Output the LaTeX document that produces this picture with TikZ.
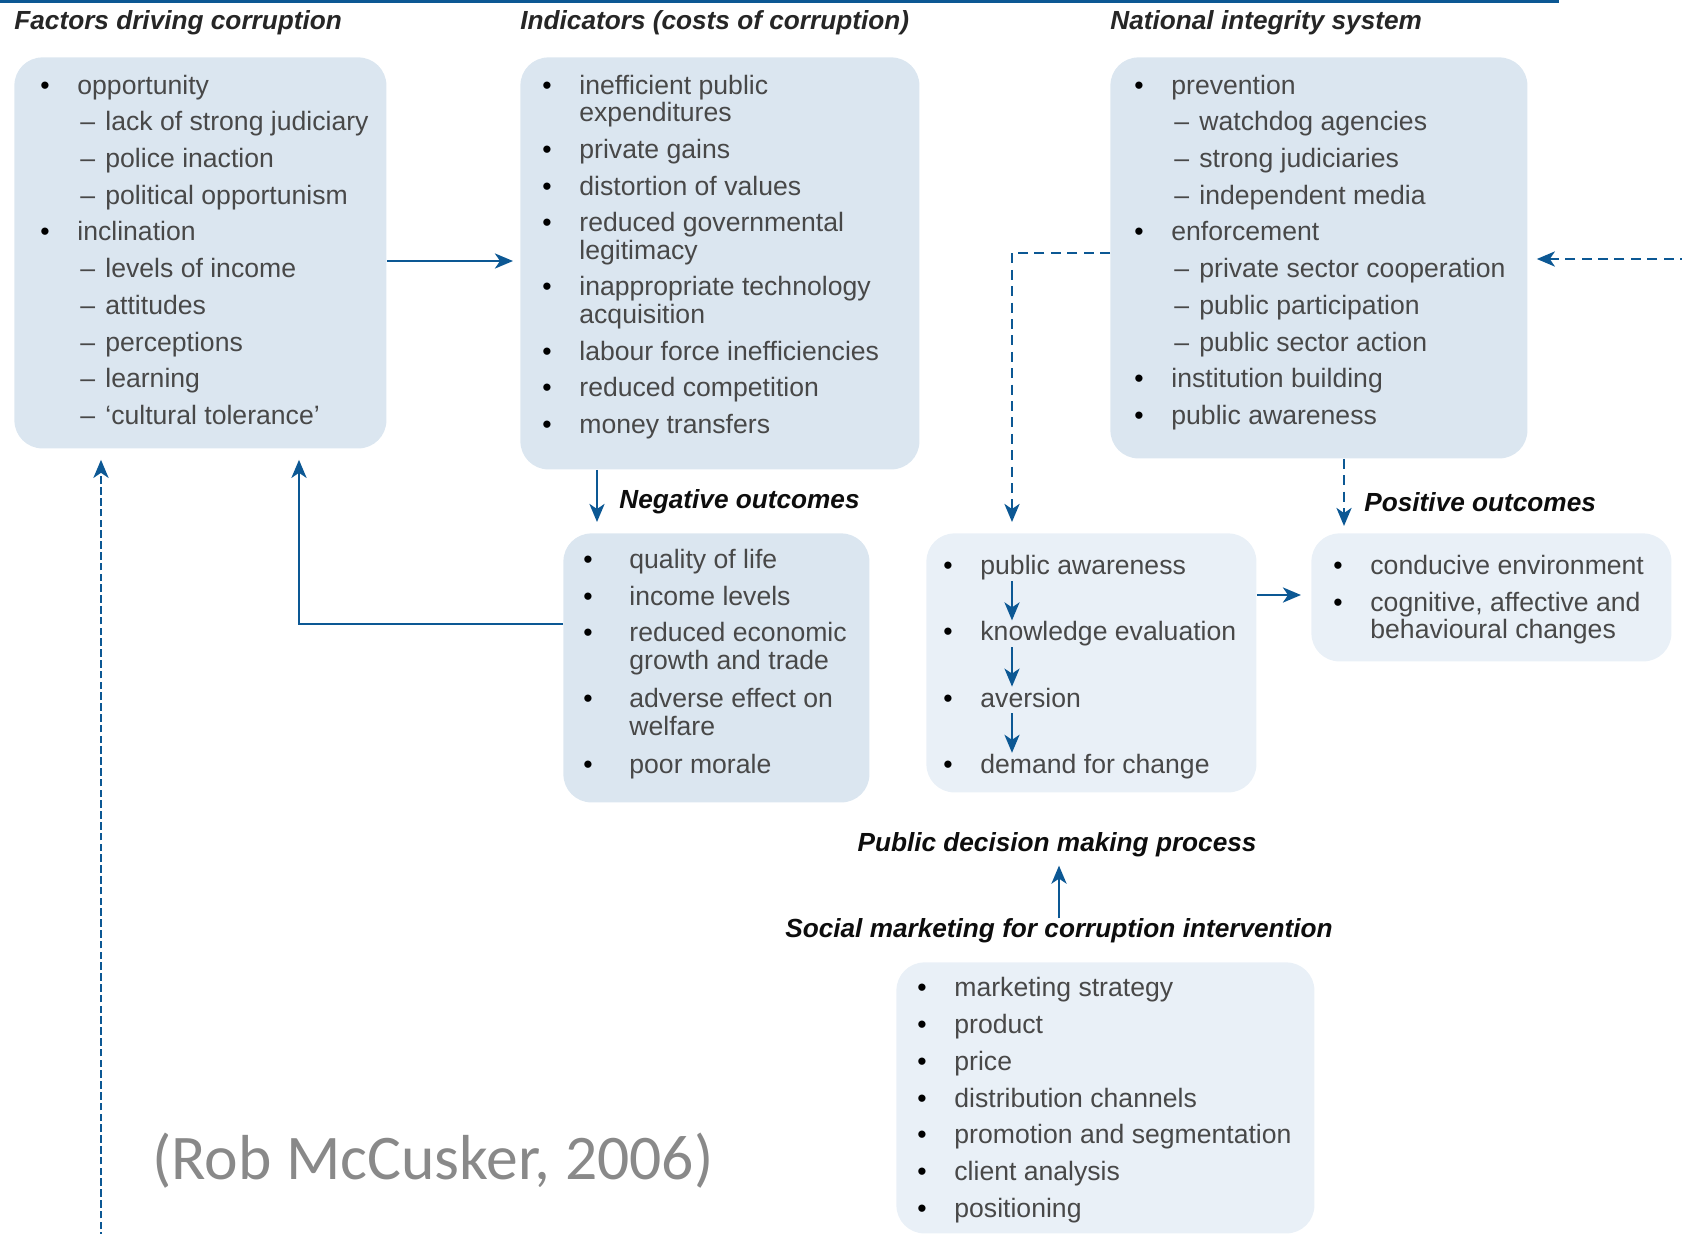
\documentclass[tikz,border=0pt]{standalone}
\usepackage{fontspec}
\setmainfont{Liberation Sans}
\newfontfamily\citefont{Carlito}
\usetikzlibrary{arrows.meta,positioning}

\definecolor{linkblue}{RGB}{12,88,148}
\definecolor{panelfill}{RGB}{219,230,240}
\definecolor{panellight}{RGB}{233,240,247}
\definecolor{bodytext}{RGB}{72,72,72}
\definecolor{citegray}{RGB}{137,137,137}

\newcommand{\bulitem}[2][18.5pt]{\strut\makebox[#1][l]{\textcolor{black}{\textbullet}}#2}
\newcommand{\dashitem}[1]{\strut\hspace*{20pt}\makebox[12.5pt][l]{\textendash}#1}
\newcommand{\contline}[2][18.5pt]{\strut\hspace*{#1}#2}

\tikzset{
  panel/.style={rounded corners=14pt, fill=panelfill, inner sep=0pt, anchor=north west},
  listtext/.style={anchor=north west, inner sep=0pt, align=left, text=bodytext,
    font=\fontsize{13.3}{18.35}\selectfont},
  chainitem/.style={listtext, text height=10pt, text depth=3pt},
  heading/.style={anchor=west, inner sep=0pt, text=black!85,
    font=\fontsize{13.1}{15}\selectfont\bfseries\itshape},
  outlabel/.style={heading, text=black!95},
  arr/.style={draw=linkblue, line width=1.45pt, -{Stealth[length=9pt,width=7.5pt,inset=2.5pt]}},
  dashline/.style={dash pattern=on 5pt off 3.2pt},
  dotline/.style={dash pattern=on 3.8pt off 1.6pt}
}

\begin{document}
\begin{tikzpicture}[x=0.5pt, y=-0.5pt]
    \useasboundingbox (0,0) rectangle (1682,1233);

    % top rule
    \draw[linkblue, line width=1.6pt] (0,1.5) -- (1559,1.5);

    % Panels
    \node[panel, minimum width=186pt, minimum height=195.5pt] (fac) at (14,57) {};
    \node[panel, minimum width=199.5pt, minimum height=206pt] (ind) at (520,57) {};
    \node[panel, minimum width=208.5pt, minimum height=200.5pt] (nis) at (1110,57) {};
    \node[panel, minimum width=153pt, minimum height=134.5pt] (neg) at (563,533) {};
    \node[panel, fill=panellight, minimum width=165pt, minimum height=129.5pt] (aware) at (926,533) {};
    \node[panel, fill=panellight, minimum width=180pt, minimum height=64pt] (pos) at (1311,533) {};
    \node[panel, fill=panellight, minimum width=209pt, minimum height=135.5pt] (soc) at (896,962) {};

    % Headings
    \node[heading] (factitle) at ([yshift=17.25pt]fac.north west) {Factors driving corruption};
    \node[heading] (indtitle) at ([yshift=17.25pt]ind.north west) {Indicators (costs of corruption)};
    \node[heading] (nistitle) at ([yshift=17.25pt]nis.north west) {National integrity system};

    % Lists
    \node[listtext, below right=5.5pt and 13pt of fac.north west] (facl) {%
      \bulitem{opportunity}\\ \dashitem{lack of strong judiciary}\\
      \dashitem{police inaction}\\ \dashitem{political opportunism}\\
      \bulitem{inclination}\\ \dashitem{levels of income}\\ \dashitem{attitudes}\\
      \dashitem{perceptions}\\ \dashitem{learning}\\ \dashitem{‘cultural tolerance’}};
    \node[listtext, below right=5.5pt and 11pt of ind.north west] (indl) {%
      \bulitem{inefficient public}\\[-4.6pt] \contline{expenditures}\\
      \bulitem{private gains}\\ \bulitem{distortion of values}\\
      \bulitem{reduced governmental}\\[-4.6pt] \contline{legitimacy}\\
      \bulitem{inappropriate technology}\\[-4.6pt] \contline{acquisition}\\
      \bulitem{labour force inefficiencies}\\ \bulitem{reduced competition}\\
      \bulitem{money transfers}};
    \node[listtext, below right=5.5pt and 12pt of nis.north west] (nisl) {%
      \bulitem{prevention}\\ \dashitem{watchdog agencies}\\
      \dashitem{strong judiciaries}\\ \dashitem{independent media}\\
      \bulitem{enforcement}\\ \dashitem{private sector cooperation}\\
      \dashitem{public participation}\\ \dashitem{public sector action}\\
      \bulitem{institution building}\\ \bulitem{public awareness}};
    \node[listtext, below right=4.6pt and 10pt of neg.north west] (negl) {%
      \bulitem[23pt]{quality of life}\\ \bulitem[23pt]{income levels}\\
      \bulitem[23pt]{reduced economic}\\[-4.6pt] \contline[23pt]{growth and trade}\\[0.8pt]
      \bulitem[23pt]{adverse effect on}\\[-4.6pt] \contline[23pt]{welfare}\\[0.8pt]
      \bulitem[23pt]{poor morale}};
    \node[listtext, below right=7.8pt and 11pt of pos.north west] (posl) {%
      \bulitem{conducive environment}\\ \bulitem{cognitive, affective and}\\[-4.6pt]
      \contline{behavioural changes}};
    \node[listtext, below right=4.4pt and 10.5pt of soc.north west] (socl) {%
      \bulitem{marketing strategy}\\ \bulitem{product}\\ \bulitem{price}\\
      \bulitem{distribution channels}\\ \bulitem{promotion and segmentation}\\
      \bulitem{client analysis}\\ \bulitem{positioning}};

    % Awareness chain
    \node[chainitem, below right=10.6pt and 8.5pt of aware.north west] (pa) {\bulitem{public awareness}};
    \node[chainitem, below right=19.7pt and 0pt of pa.south west] (ke) {\bulitem{knowledge evaluation}};
    \node[chainitem, below right=19.7pt and 0pt of ke.south west] (av) {\bulitem{aversion}};
    \node[chainitem, below right=19.7pt and 0pt of av.south west] (dc) {\bulitem{demand for change}};
    \draw[arr, line width=1.2pt] ([xshift=34.5pt]pa.south west) -- ([xshift=34.5pt]ke.north west);
    \draw[arr, line width=1.2pt] ([xshift=34.5pt]ke.south west) -- ([xshift=34.5pt]av.north west);
    \draw[arr, line width=1.2pt] ([xshift=34.5pt]av.south west) -- ([xshift=34.5pt]dc.north west);

    % Labels
    \node[outlabel] (negt) at (619,502) {Negative outcomes};
    \node[outlabel] (post) at (1364,502) {Positive outcomes};
    \node[outlabel, anchor=center] (decide) at (1057,845) {Public decision making process};
    \node[outlabel, anchor=center] (socmk) at (1059,931) {Social marketing for corruption intervention};
    \node[anchor=west, inner sep=0pt, text=citegray,
      font=\citefont\fontsize{31.8}{36}\selectfont] (cite) at (152,1161) {(Rob McCusker, 2006)};

    % Arrows
    \coordinate (dotfoot) at (101,1240);
    \coordinate (rightfeed) at (1690,259);
    \draw[arr, shorten >=3.5pt] (fac.east |- 0,261) -- (ind.west |- 0,261);
    \draw[arr, shorten >=5.5pt] (ind.south -| 597,0) -- (neg.north -| 597,0);
    \draw[arr, shorten >=5.5pt] (neg.west |- 0,624) -| (fac.south -| 299,0);
    \draw[arr, dotline, shorten >=5.5pt] (dotfoot) -- (fac.south -| dotfoot);
    \draw[arr, dashline, shorten >=5.5pt] (nis.west |- 0,253) -| (aware.north -| 1012,0);
    \draw[arr, shorten >=5pt] (aware.east |- 0,595) -- (pos.west |- 0,595);
    \draw[arr, dashline, shorten >=3.5pt] (nis.south -| 1344,0) -- (pos.north -| 1344,0);
    \draw[arr, dashline, shorten >=4.5pt] (rightfeed) -- (nis.east |- rightfeed);
    \draw[arr, shorten >=4pt] (socmk.north) -- (socmk.north |- decide.south);
\end{tikzpicture}
\end{document}
